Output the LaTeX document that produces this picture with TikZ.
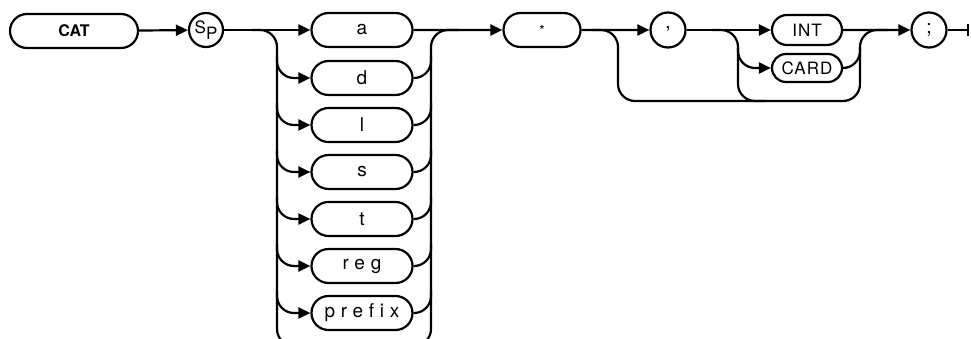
\documentclass[tikz,border=0pt]{standalone}
\usepackage{fontspec}
\setmainfont{TeX Gyre Heros}
\newfontfamily\widefont[LetterSpace=30,Ligatures=NoCommon]{TeX Gyre Heros}
\newfontfamily\capsfont[LetterSpace=6]{TeX Gyre Heros}
\usetikzlibrary{calc}
\usetikzlibrary{shapes.misc}
\usetikzlibrary{arrows.meta}

\tikzset{
    term/.style={rounded rectangle, draw, line width=2.2pt, minimum height=34pt, inner sep=0pt,
        font=\fontsize{19}{19}\selectfont},
    sym/.style={circle, draw, line width=2.2pt, minimum size=35pt, inner sep=0pt,
        font=\fontsize{19}{19}\selectfont},
    rail/.style={line width=2.2pt, rounded corners=17pt},
    >={Triangle[length=12pt,width=11pt]}
}

\begin{document}
\begin{tikzpicture}[x=1pt,y=-1pt]
    \useasboundingbox (0,0) rectangle (971,339);
    %nodes
    \node[term, minimum width=128pt, font=\fontsize{16}{16}\selectfont\bfseries] (cat) at (74,31) {CAT};
    \node[sym, minimum size=34pt, font=\fontsize{17}{17}\selectfont] (sp) at (206,30) {S\raisebox{-6pt}{P}};
    \node[term, minimum width=101pt] (a) at (362,30) {\widefont a};
    \node[term, minimum width=101pt] (d) at (362,78) {\widefont d};
    \node[term, minimum width=101pt] (l) at (362,125) {\widefont l};
    \node[term, minimum width=101pt] (s) at (362,172) {\widefont s};
    \node[term, minimum width=101pt] (t) at (362,219) {\widefont t};
    \node[term, minimum width=101pt] (reg) at (362,266) {\widefont reg};
    \node[term, minimum width=101pt] (prefix) at (362,313) {\widefont prefix};
    \node[term, minimum width=77pt, font=\fontsize{14}{14}\selectfont] (star) at (542,30) {*};
    \node[sym] (comma) at (668,30) {\raisebox{5pt}{,}};
    \node[term, minimum width=70pt, minimum height=30pt, font=\fontsize{17}{17}\selectfont] (int) at (807,30) {\capsfont INT};
    \node[term, minimum width=70pt, minimum height=28pt, font=\fontsize{17}{17}\selectfont] (card) at (807,68) {\capsfont CARD};
    \node[sym] (semi) at (929,30) {;};
    %rail points
    \coordinate (altL) at (277,30);
    \coordinate (altR) at (431,30);
    \coordinate (altC) at (738,30);
    \coordinate (altD) at (860,30);
    \coordinate (splitA) at (252,30);
    \coordinate (joinA) at (458,30);
    \coordinate (splitB) at (592,30);
    \coordinate (joinB) at (888,30);
    \coordinate (splitC) at (712,30);
    \coordinate (endR) at (968,30);
    %main line
    \draw[rail,->] (cat) -- (sp);
    \draw[rail,->] (sp) -- (a);
    \draw[rail,->] (a) -- (star);
    \draw[rail,->] (star) -- (comma);
    \draw[rail,->] (comma) -- (int);
    \draw[rail,->] (int) -- (semi);
    \draw[rail] (semi) -- (endR);
    \draw[line width=2.2pt] ($(endR)+(0,-6)$) -- ($(endR)+(0,6)$);
    %first choice
    \draw[rail] (splitA) -- (altL) -- (277,346) -- (431,346) -- (altR) -- (joinA);
    \foreach \n in {d,l,s,t,reg,prefix} {
        \draw[rail,->] ($(\n.west -| altL)+(0,-22)$) |- (\n.west);
        \draw[rail] (\n.east) -| ($(\n.east -| altR)+(0,-22)$);
    }
    %optional part
    \draw[rail] (splitB) -- (618,30) -- (618,101) -- (860,101) -- (altD) -- (joinB);
    \draw[rail] (splitC) -- (altC) -- (738,101) -- (765,101);
    \draw[rail,->] ($(card.west -| altC)+(0,-20)$) |- (card.west);
    \draw[rail] (card.east) -| ($(card.east -| altD)+(0,-20)$);
\end{tikzpicture}
\end{document}
